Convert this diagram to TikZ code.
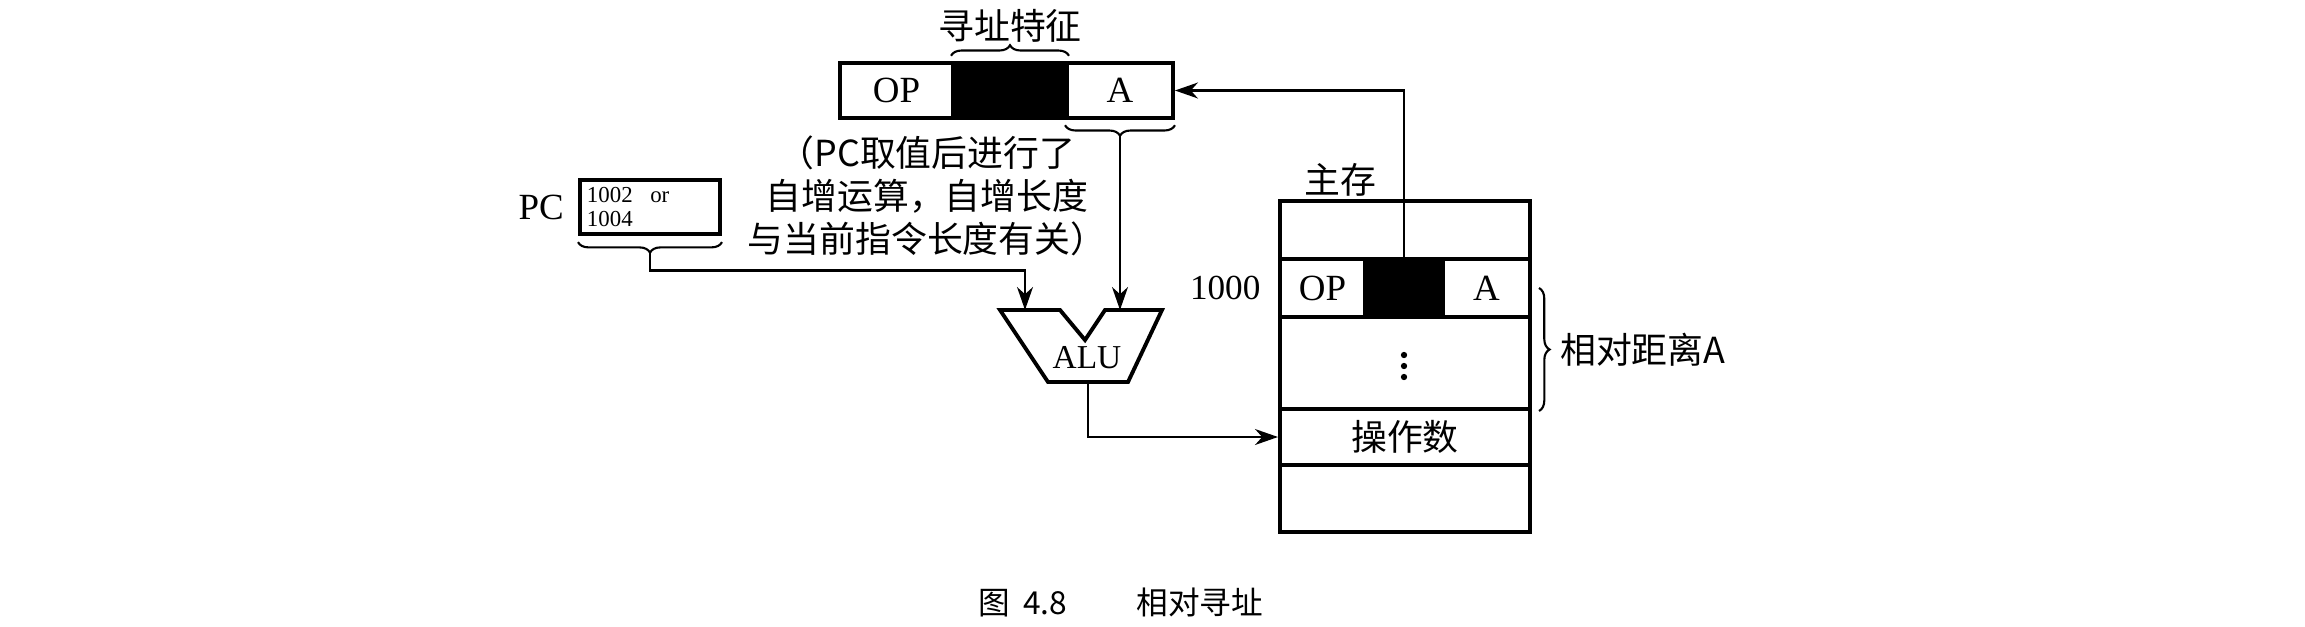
\documentclass[tikz,border=0pt]{standalone}
\usepackage{fontspec}
\setmainfont{Liberation Serif}
\newfontfamily\cjk{Noto Sans CJK SC}
\usetikzlibrary{positioning,arrows.meta,decorations.pathreplacing}
\begin{document}
\begin{tikzpicture}[x=0.01cm,y=-0.01cm,
  cell/.style={draw,line width=1.1pt,inner sep=0pt,minimum height=0.55cm,font=\fontsize{10.5}{12}\selectfont},
  conn/.style={line width=0.75pt,-{Stealth[length=6.5pt,width=4.5pt,inset=2pt]}},
  brc/.style={decorate,decoration={brace,amplitude=3pt},line width=0.6pt},
  cn/.style={font=\cjk\fontsize{10.2}{12.2}\selectfont}]
\useasboundingbox[fill=white] (0,0) rectangle (2305,627);
% instruction word
\node[cell,minimum width=1.13cm] (op1) at (896.5,90.5) {OP};
\node[cell,fill=black,minimum width=1.14cm] (md1) at (1010,90.5) {};
\node[cell,minimum width=1.06cm] (a1) at (1120,90.5) {A};
\draw[brc] ([yshift=1.5pt]md1.north west) -- ([yshift=1.5pt]md1.north east);
\node[cn] (feat) at (1010,26) {寻址特征};
\draw[brc] ([yshift=-1.5pt]a1.south east) -- ([yshift=-1.5pt]a1.south west);
\coordinate (atip) at ([yshift=-4.5pt]a1.south);
\node[cn,align=center] (note) at (927,196) {（PC取值后进行了\\自增运算，自增长度\\与当前指令长度有关）};
% PC
\node[draw,line width=1.1pt,minimum width=1.4cm,minimum height=0.54cm,inner sep=0.07cm,
  text width=1.26cm,align=left,font=\fontsize{6.5}{7.1}\selectfont] (pc) at (650,207)
  {1002\hspace{5pt}or\\1004};
\node[left=0.5pt of pc,font=\fontsize{10.5}{12}\selectfont] (pclbl) {PC};
\draw[brc] ([yshift=-1.7pt]pc.south east) -- ([yshift=-1.7pt]pc.south west);
\coordinate (pctip) at ([yshift=-4.7pt]pc.south);
% ALU
\draw[line width=1.1pt] (1000,310) -- (1060,310) -- (1085,340) -- (1105,310) -- (1162,310)
  -- (1128,382) -- (1048,382) -- cycle;
\node[font=\fontsize{9.5}{11}\selectfont] (alu) at (1087,358) {ALU};
\coordinate (in1) at (1025,310);
\coordinate (in2) at (1120,310);
\coordinate (aluout) at (1088,382);
% main memory
\node[cell,minimum width=2.5cm,minimum height=0.58cm] (m0) at (1405,230) {};
\node[cell,minimum width=0.85cm,minimum height=0.58cm] (op2) at (1322.5,288) {OP};
\node[cell,fill=black,minimum width=0.78cm,minimum height=0.58cm] (md2) at (1404,288) {};
\node[cell,minimum width=0.87cm,minimum height=0.58cm] (a2) at (1486.5,288) {A};
\node[cell,minimum width=2.5cm,minimum height=0.92cm] (gap) at (1405,363) {};
\foreach \dy in {355,366,377}
  \fill (1404,\dy) circle (0.9pt);
\node[cell,cn,minimum width=2.5cm,minimum height=0.56cm] (opd) at (1405,437) {操作数};
\node[cell,minimum width=2.5cm,minimum height=0.67cm] (m5) at (1405,498.5) {};
\node[cn] (mem) at (1340,180) {主存};
\node[left=1.5pt of op2,font=\fontsize{10}{12}\selectfont] (addr) {1000};
\draw[brc] ([xshift=2pt]a2.east) -- ([xshift=2pt]gap.south east)
  node[midway,right=2.4pt,cn] (dist) {相对距离A};
% connectors
\draw[conn] (pctip) -- ++(0,18) -| (in1);
\draw[conn] (atip) -- (in2);
\draw[conn] (aluout) |- (opd.west);
\draw[conn] (md2.north) |- (a1.east);
% caption
\node[font=\cjk\fontsize{9}{10}\selectfont] (cap) at (1121,602) {图\hspace{0.4em}4.8\hspace{2.2em}相对寻址};
\end{tikzpicture}
\end{document}
